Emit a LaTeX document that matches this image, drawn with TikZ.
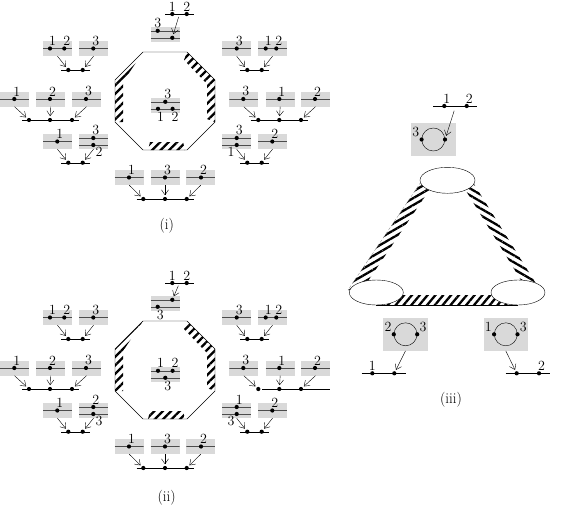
\documentclass[tikz,border=0pt]{standalone}
\usetikzlibrary{arrows.meta,patterns.meta,shapes.geometric}
\tikzset{
  gbox/.style = {fill=black!15, minimum width=29pt, minimum height=15pt, inner sep=0pt},
  oneline/.style = {path picture={\draw[black!70] (path picture bounding box.west) -- (path picture bounding box.east);}},
  twoline/.style = {path picture={
      \draw[black!70] ([yshift=3.5pt]path picture bounding box.west) -- ([yshift=3.5pt]path picture bounding box.east);
      \draw[black!70] ([yshift=-3.5pt]path picture bounding box.west) -- ([yshift=-3.5pt]path picture bounding box.east);}},
  dot/.style = {circle, fill=black, inner sep=0pt, minimum size=4.2pt},
  lbl/.style = {font=\fontsize{14}{16}\selectfont, inner sep=0.5pt},
  lu/.style = {label={[lbl,xshift=2.5pt]above:#1}},
  ld/.style = {label={[lbl,xshift=2.5pt]below:#1}},
  lc/.style = {label={[lbl]above:#1}},
  ldr/.style = {label={[lbl]below right:#1}},
  ldl/.style = {label={[lbl]below left:#1}},
  lul/.style = {label={[lbl]above left:#1}},
  lur/.style = {label={[lbl]above right:#1}},
  arr/.style = {-{Straight Barb[length=5pt,width=7pt]}, shorten >=1.5pt},
  hatch/.style = {pattern={Lines[angle=#1,distance=6pt,line width=2.3pt]}},
  hatch/.default = 45,
  capt/.style = {font=\fontsize{15}{17}\selectfont}
}
% the part that (i) and (ii) share
\newcommand{\halfpic}{%
  % left, first row
  \node[gbox,oneline] (la) at (57.5,48.5) {};
  \node[gbox,oneline] (lb) at (93.5,48.5) {};
  \node[dot,lu=1] (la1) at (50,48.5) {};
  \node[dot,lu=2] (la2) at (64.3,48.5) {};
  \node[dot,lu=3] (lb3) at (93.3,48.5) {};
  \node[dot] (ls1) at (68.3,70) {};
  \node[dot] (ls2) at (82.7,70) {};
  \draw ([xshift=-7.3pt]ls1.center) -- ([xshift=7.3pt]ls2.center);
  \draw[arr] (la.south) -- (ls1);
  \draw[arr] (lb.south) -- (ls2);
  % left, second row
  \node[gbox,oneline] (ma) at (14.5,99) {};
  \node[gbox,oneline] (mb) at (50.5,99) {};
  \node[gbox,oneline] (mc) at (86.5,99) {};
  \node[dot,lu=1] (ma1) at (14.3,99) {};
  \node[dot,lu=2] (mb2) at (50,99) {};
  \node[dot,lu=3] (mc3) at (86,99) {};
  \node[dot] (ms1) at (29,120) {};
  \node[dot] (ms2) at (50,120) {};
  \node[dot] (ms3) at (72,120) {};
  \draw ([xshift=-7pt]ms1.center) -- ([xshift=7pt]ms3.center);
  \draw[arr] (ma.south) -- (ms1);
  \draw[arr] (mb.south) -- (ms2);
  \draw[arr] (mc.south) -- (ms3);
  % left, third row
  \node[gbox,oneline] (na) at (57.5,141.5) {};
  \node[gbox,twoline] (nb) at (93.5,141.5) {};
  \node[dot,lu=1] (na1) at (57.3,141.5) {};
  \node[dot] (ns1) at (68.3,162.7) {};
  \node[dot] (ns2) at (82.7,162.7) {};
  \draw ([xshift=-7.3pt]ns1.center) -- ([xshift=7.3pt]ns2.center);
  \draw[arr] (na.south) -- (ns1);
  \draw[arr] (nb.south) -- (ns2);
  % right, first row
  \node[gbox,oneline] (ra) at (236.7,48.5) {};
  \node[gbox,oneline] (rb) at (272.5,48.5) {};
  \node[dot,lu=3] (ra3) at (236.7,48.5) {};
  \node[dot,lu=1] (rb1) at (265.7,48.5) {};
  \node[dot,lu=2] (rb2) at (276.3,48.5) {};
  \node[dot] (rs1) at (247.3,70) {};
  \node[dot] (rs2) at (261.7,70) {};
  \draw ([xshift=-7.3pt]rs1.center) -- ([xshift=7.3pt]rs2.center);
  \draw[arr] (ra.south) -- (rs1);
  \draw[arr] (rb.south) -- (rs2);
  % right, second row
  \node[gbox,oneline] (sa) at (243.8,99) {};
  \node[gbox,oneline] (sb) at (280.2,99) {};
  \node[gbox,oneline] (sc) at (315.5,99) {};
  \node[dot,lu=3] (sa3) at (243.3,99) {};
  \node[dot,lu=1] (sb1) at (279.3,99) {};
  \node[dot,lu=2] (sc2) at (315,99) {};
  \node[dot] (ss1) at (258.3,120) {};
  \node[dot] (ss2) at (279.3,120) {};
  \node[dot] (ss3) at (301,120) {};
  \draw[arr] (sa.south) -- (ss1);
  \draw[arr] (sb.south) -- (ss2);
  \draw[arr] (sc.south) -- (ss3);
  % right, third row
  \node[gbox,twoline] (ta) at (236.7,141.5) {};
  \node[gbox,oneline] (tb) at (272.5,141.5) {};
  \node[dot,lu=2] (tb2) at (272.3,141.5) {};
  \node[dot] (ts1) at (247.3,162.7) {};
  \node[dot] (ts2) at (261.7,162.7) {};
  \draw ([xshift=-7.3pt]ts1.center) -- ([xshift=7.3pt]ts2.center);
  \draw[arr] (ta.south) -- (ts1);
  \draw[arr] (tb.south) -- (ts2);
  % top
  \node[dot,lc=1] (p1) at (172.3,14) {};
  \node[dot,lc=2] (p2) at (186.7,14) {};
  \draw ([xshift=-7.3pt]p1.center) -- ([xshift=7.3pt]p2.center);
  \coordinate (pm) at (179.5,14);
  \node[gbox,twoline] (tp) at (165.3,34.3) {};
  \node[gbox,twoline] (cb) at (165.3,105.3) {};
  % bottom row
  \node[gbox,oneline] (ba) at (129.2,177.5) {};
  \node[gbox,oneline] (bb) at (165,177.5) {};
  \node[gbox,oneline] (bc) at (200.8,177.5) {};
  \node[dot,lu=1] (ba1) at (129,177.5) {};
  \node[dot,lu=3] (bb3) at (165,177.5) {};
  \node[dot,lu=2] (bc2) at (201,177.5) {};
  \node[dot] (bs1) at (143.3,199) {};
  \node[dot] (bs2) at (165,199) {};
  \node[dot] (bs3) at (186.7,199) {};
  \draw ([xshift=-6.6pt]bs1.center) -- ([xshift=7.3pt]bs3.center);
  \draw[arr] (ba.south) -- (bs1);
  \draw[arr] (bb.south) -- (bs2);
  \draw[arr] (bc.south) -- (bs3);
  % octagon
  \coordinate (o1) at (143,52);  \coordinate (o2) at (187,52);
  \coordinate (o3) at (215,80);  \coordinate (o4) at (215,122);
  \coordinate (o5) at (187,150); \coordinate (o6) at (143,150);
  \coordinate (o7) at (115,122); \coordinate (o8) at (115,80);
  \fill[hatch] (o2) -- (o3) -- (o4) -- (207,119) -- (207,84) -- (184,60) -- cycle;
  \fill[hatch] (o7) -- (o8) -- (o1) -- (123,82) -- (123,122) -- cycle;
  \fill[hatch] (148,150) -- (185,150) -- (183,142) -- (150,142) -- cycle;
  \draw (o1) -- (o2) -- (o3) -- (o4) -- (o5) -- (o6) -- (o7) -- (o8) -- cycle;
}

\begin{document}
\begin{tikzpicture}[x=1pt,y=-1pt]
  \useasboundingbox (0,0) rectangle (563,506);

  % (i)
  \begin{scope}[name prefix=i-]
    \halfpic
    \node[dot,lu=3] (nbt) at (93.3,138) {};
    \node[dot,ldr=2] (nbb) at (93.3,145) {};
    \node[dot,lu=3] (tat) at (236.7,138) {};
    \node[dot,ldl=1] (tab) at (236.7,145) {};
    \draw ([xshift=-7.6pt]ss1.center) -- ([xshift=7pt]ss3.center);
    \node[dot,lc=3] (tpt) at (157.7,30.8) {};
    \node[dot] (tpb) at (172.3,37.8) {};
    \draw[arr, shorten <=3pt] (pm) -- (tpb);
    \node[dot,lu=3] (cbt) at (165.3,101.8) {};
    \node[dot,ld=1] (cbb1) at (158,108.8) {};
    \node[dot,ld=2] (cbb2) at (172.6,108.8) {};
    \node[capt] (cap) at (166.7,226) {(i)};
  \end{scope}

  % (ii)
  \begin{scope}[shift={(0,269)}, name prefix=ii-]
    \halfpic
    \node[dot,lu=2] (nbt) at (93.3,138) {};
    \node[dot,ldr=3] (nbb) at (93.3,145) {};
    \node[dot,lu=1] (tat) at (236.7,138) {};
    \node[dot,ldl=3] (tab) at (236.7,145) {};
    \draw ([xshift=4pt]ss1.center) -- ([xshift=29pt]ss3.center);
    \node[dot] (tpt) at (172.3,30.8) {};
    \node[dot,ld=3] (tpb) at (157.7,37.8) {};
    \draw[arr, shorten <=3pt] (pm) -- (tpt);
    \node[dot,lu=1] (cbt1) at (158,101.8) {};
    \node[dot,lu=2] (cbt2) at (172.6,101.8) {};
    \node[dot,ld=3] (cbb) at (165.3,108.8) {};
    \node[capt] (cap) at (166.7,229) {(ii)};
  \end{scope}

  % (iii)
  \fill[hatch=30] (421,182) -- (348,290) -- (362,290) -- (432,186) -- cycle;
  \draw[black!50, line width=0.3pt, dash pattern=on 3pt off 2pt] (421,182) -- (348,290);
  \fill[hatch=-30] (474,184) -- (540,290) -- (527,290) -- (463,186) -- cycle;
  \fill[hatch=50] (376,305) -- (518,305) -- (518,295) -- (376,295) -- cycle;
  \node[draw, ellipse, fill=white, minimum width=55pt, minimum height=26pt, inner sep=0pt] (e0) at (447.5,180.3) {};
  \node[draw, ellipse, fill=white, minimum width=54pt, minimum height=25pt, inner sep=0pt] (e1) at (376.3,292.5) {};
  \node[draw, ellipse, fill=white, minimum width=54pt, minimum height=25pt, inner sep=0pt] (e2) at (518,292.5) {};
  \draw (e1.south) -- (e2.south);

  \node[dot,lu=1] (u1) at (444.3,106) {};
  \node[dot,lu=2] (u2) at (466.7,106) {};
  \draw ([xshift=-11pt]u1.center) -- ([xshift=10.6pt]u2.center);
  \coordinate (um) at (455.7,106);
  \node[gbox, minimum width=44.7pt, minimum height=32.7pt] (q0) at (433.3,139.7) {};
  \node[circle, draw, minimum size=23pt, inner sep=0pt] (c0) at (433.3,139.5) {};
  \node[dot,lul=3] (c0a) at (c0.west) {};
  \node[dot] (c0b) at (c0.east) {};
  \draw[arr, shorten <=5pt] (um) -- (c0b);

  \node[gbox, minimum width=44.4pt, minimum height=33pt] (q1) at (405.5,334.2) {};
  \node[circle, draw, minimum size=23pt, inner sep=0pt] (c1) at (405.5,334.3) {};
  \node[dot,lul=2] (c1a) at (c1.west) {};
  \node[dot,lur=3] (c1b) at (c1.east) {};
  \node[dot,lc=1] (v1) at (372.3,373.3) {};
  \node[dot] (v2) at (394.3,373.3) {};
  \draw ([xshift=-10.6pt]v1.center) -- ([xshift=11.4pt]v2.center);
  \draw[arr] (q1.south) -- (v2);

  \node[gbox, minimum width=44.4pt, minimum height=33pt] (q2) at (505.8,334.2) {};
  \node[circle, draw, minimum size=23pt, inner sep=0pt] (c2) at (505.8,334.3) {};
  \node[dot,lul=1] (c2a) at (c2.west) {};
  \node[dot,lur=3] (c2b) at (c2.east) {};
  \node[dot] (w1) at (516.7,373.3) {};
  \node[dot,lu=2] (w2) at (539,373.3) {};
  \draw ([xshift=-11pt]w1.center) -- ([xshift=11pt]w2.center);
  \draw[arr] (q2.south) -- (w1);

  \node[capt] (capiii) at (451,399.3) {(iii)};
\end{tikzpicture}
\end{document}
